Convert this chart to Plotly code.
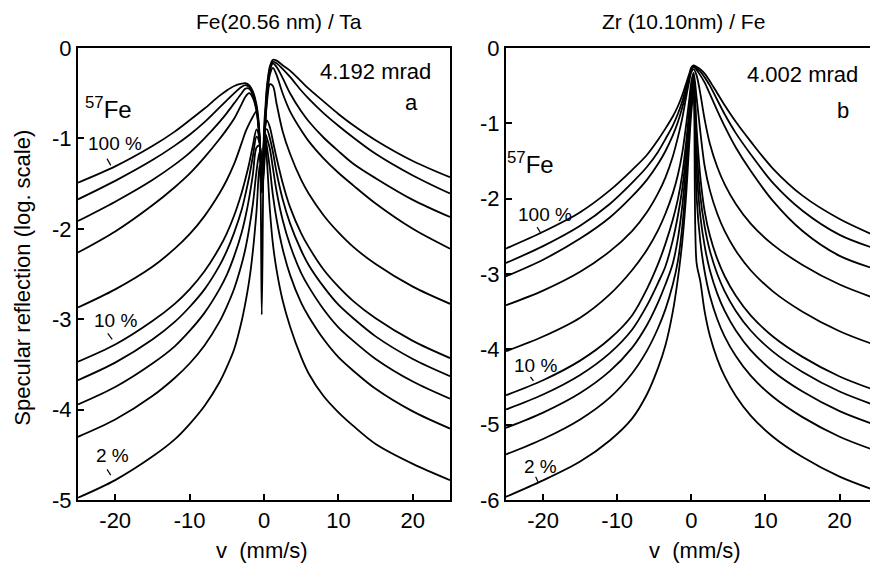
import plotly.graph_objects as go

# ---------------- data ----------------
# panel a : Fe(20.56 nm) / Ta, 4.192 mrad
xa = [-25, -20, -15, -12, -10, -8, -6, -5, -4, -3, -2.5, -2, -1.5, -1, -0.6, -0.3,
      0, 0.2, 0.4, 0.8, 1.2, 1.7, 2.5, 3.5, 5, 6, 8, 10, 12, 15, 20, 25]
a_c1 = [-1.49, -1.31, -1.085, -0.925, -0.80, -0.67, -0.53, -0.47, -0.42, -0.395, -0.39, -0.41, -0.48, -0.63, -0.95, -2.95,
        -0.90, -0.64, -0.42, -0.20, -0.13, -0.14, -0.19, -0.25, -0.37, -0.45, -0.59, -0.73, -0.855, -1.02, -1.25, -1.43]
a_c2 = [-1.674, -1.47, -1.24, -1.08, -0.96, -0.82, -0.66, -0.58, -0.50, -0.43, -0.41, -0.43, -0.50, -0.66, -0.98, -1.45,
        -1.0, -0.72, -0.46, -0.22, -0.15, -0.17, -0.23, -0.32, -0.47, -0.56, -0.72, -0.86, -0.99, -1.17, -1.41, -1.61]
a_c3 = [-1.914, -1.70, -1.46, -1.29, -1.16, -1.00, -0.82, -0.72, -0.61, -0.50, -0.45, -0.45, -0.52, -0.68, -1.0, -1.38,
        -1.02, -0.75, -0.50, -0.25, -0.17, -0.21, -0.33, -0.50, -0.70, -0.81, -0.99, -1.14, -1.28, -1.44, -1.68, -1.87]
a_c4 = [-2.263, -2.03, -1.74, -1.54, -1.39, -1.21, -1.01, -0.90, -0.78, -0.62, -0.54, -0.50, -0.55, -0.70, -1.02, -1.33,
        -1.05, -0.80, -0.55, -0.29, -0.22, -0.30, -0.50, -0.70, -0.91, -1.03, -1.22, -1.38, -1.52, -1.72, -2.0, -2.22]
a_c5 = [-2.87, -2.67, -2.42, -2.22, -2.06, -1.86, -1.61, -1.46, -1.28, -1.05, -0.93, -0.84, -0.76, -0.70, -1.00, -1.36,
        -1.12, -0.80, -0.60, -0.40, -0.42, -0.62, -0.92, -1.17, -1.46, -1.61, -1.85, -2.04, -2.20, -2.39, -2.64, -2.83]
a_c6 = [-3.47, -3.28, -3.02, -2.83, -2.67, -2.47, -2.21, -2.05, -1.85, -1.60, -1.45, -1.28, -1.08, -0.90, -1.02, -1.40,
        -1.15, -0.85, -0.80, -0.88, -1.03, -1.22, -1.49, -1.76, -2.05, -2.20, -2.45, -2.64, -2.80, -2.99, -3.24, -3.43]
a_c7 = [-3.674, -3.48, -3.225, -3.03, -2.865, -2.67, -2.41, -2.245, -2.04, -1.79, -1.62, -1.43, -1.20, -0.98, -1.05, -1.45,
        -1.20, -0.90, -0.90, -1.00, -1.15, -1.38, -1.67, -1.94, -2.24, -2.40, -2.64, -2.84, -2.99, -3.19, -3.44, -3.63]
a_c8 = [-3.943, -3.75, -3.49, -3.30, -3.13, -2.93, -2.67, -2.51, -2.30, -2.04, -1.87, -1.66, -1.40, -1.10, -1.08, -1.50,
        -1.25, -0.95, -1.00, -1.12, -1.33, -1.59, -1.90, -2.18, -2.49, -2.64, -2.89, -3.09, -3.24, -3.44, -3.69, -3.88]
a_c9 = [-4.301, -4.11, -3.85, -3.65, -3.49, -3.29, -3.03, -2.86, -2.66, -2.39, -2.22, -2.0, -1.73, -1.36, -1.15, -1.55,
        -1.30, -1.00, -1.10, -1.34, -1.63, -1.90, -2.22, -2.51, -2.82, -2.97, -3.22, -3.42, -3.57, -3.77, -4.02, -4.21]
a_c10 = [-4.975, -4.78, -4.52, -4.33, -4.16, -3.96, -3.70, -3.53, -3.33, -3.02, -2.82, -2.58, -2.25, -1.80, -1.30, -1.60,
         -1.35, -1.05, -1.25, -1.80, -2.17, -2.46, -2.79, -3.08, -3.42, -3.60, -3.85, -4.03, -4.18, -4.38, -4.60, -4.78]
panel_a = [a_c1, a_c2, a_c3, a_c4, a_c5, a_c6, a_c7, a_c8, a_c9, a_c10]

# panel b : Zr (10.10nm) / Fe, 4.002 mrad
xb = [-25, -20, -15, -11, -8, -6, -4.5, -3.5, -2.5, -1.8, -1.2, -0.7, -0.3, 0, 0.3,
      0.7, 1.2, 1.8, 2.5, 3.5, 4.5, 6, 8, 11, 15, 20, 25]
b_c1 = [-2.663, -2.44, -2.18, -1.89, -1.62, -1.42, -1.22, -1.07, -0.91, -0.77, -0.62, -0.47, -0.35, -0.26, -0.23,
        -0.25, -0.28, -0.34, -0.44, -0.60, -0.76, -0.98, -1.24, -1.60, -1.96, -2.27, -2.50]
b_c2 = [-2.854, -2.63, -2.36, -2.07, -1.79, -1.58, -1.38, -1.21, -1.03, -0.87, -0.70, -0.52, -0.38, -0.27, -0.24,
        -0.27, -0.31, -0.39, -0.50, -0.69, -0.88, -1.13, -1.41, -1.79, -2.16, -2.48, -2.67]
b_c3 = [-3.031, -2.81, -2.53, -2.25, -1.97, -1.75, -1.54, -1.37, -1.16, -0.98, -0.78, -0.57, -0.40, -0.28, -0.25,
        -0.29, -0.36, -0.46, -0.61, -0.83, -1.04, -1.32, -1.63, -2.03, -2.43, -2.76, -2.94]
b_c4 = [-3.415, -3.22, -2.97, -2.70, -2.43, -2.18, -1.93, -1.72, -1.44, -1.18, -0.92, -0.65, -0.45, -0.32, -0.28,
        -0.36, -0.60, -0.95, -1.27, -1.58, -1.81, -2.07, -2.33, -2.61, -2.88, -3.14, -3.33]
b_c5 = [-4.025, -3.83, -3.58, -3.27, -2.95, -2.68, -2.42, -2.20, -1.93, -1.68, -1.38, -1.02, -0.70, -0.45, -0.33,
        -0.65, -1.10, -1.57, -1.89, -2.20, -2.43, -2.69, -2.95, -3.23, -3.50, -3.76, -3.95]
b_c6 = [-4.609, -4.41, -4.15, -3.86, -3.55, -3.20, -2.87, -2.60, -2.28, -2.00, -1.66, -1.25, -0.85, -0.55, -0.38,
        -1.05, -1.70, -2.17, -2.49, -2.80, -3.03, -3.29, -3.55, -3.83, -4.10, -4.36, -4.55]
b_c7 = [-4.798, -4.60, -4.34, -4.05, -3.74, -3.42, -3.12, -2.90, -2.55, -2.22, -1.85, -1.40, -0.95, -0.62, -0.43,
        -1.30, -1.96, -2.37, -2.69, -3.00, -3.23, -3.49, -3.75, -4.03, -4.30, -4.56, -4.75]
b_c8 = [-5.042, -4.84, -4.58, -4.29, -3.98, -3.68, -3.38, -3.14, -2.86, -2.52, -2.08, -1.55, -1.05, -0.68, -0.48,
        -1.58, -2.22, -2.63, -2.95, -3.26, -3.49, -3.75, -4.01, -4.29, -4.56, -4.82, -5.01]
b_c9 = [-5.395, -5.19, -4.93, -4.64, -4.32, -4.02, -3.72, -3.47, -3.14, -2.82, -2.35, -1.75, -1.15, -0.75, -0.53,
        -1.96, -2.56, -2.97, -3.29, -3.60, -3.83, -4.09, -4.35, -4.63, -4.90, -5.16, -5.35]
b_c10 = [-5.958, -5.74, -5.49, -5.21, -4.92, -4.60, -4.25, -3.95, -3.50, -3.05, -2.55, -1.95, -1.30, -0.85, -0.60,
         -2.85, -3.09, -3.50, -3.82, -4.13, -4.36, -4.62, -4.88, -5.16, -5.43, -5.69, -5.88]
panel_b = [b_c1, b_c2, b_c3, b_c4, b_c5, b_c6, b_c7, b_c8, b_c9, b_c10]

x_ticks = [-20, -10, 0, 10, 20]
x_ticktext = ["-20", "-10", "0", "10", "20"]
ya_ticks = [0, -1, -2, -3, -4, -5]
yb_ticks = [0, -1, -2, -3, -4, -5, -6]

# ---------------- figure ----------------
FONT = "Arial"
fig = go.Figure()
for ys in panel_a:
    fig.add_trace(go.Scatter(x=xa, y=ys, mode="lines", xaxis="x", yaxis="y",
                             line=dict(color="black", width=1.8, shape="spline", smoothing=0.9),
                             showlegend=False, hoverinfo="skip"))
for ys in panel_b:
    fig.add_trace(go.Scatter(x=xb, y=ys, mode="lines", xaxis="x2", yaxis="y2",
                             line=dict(color="black", width=1.8, shape="spline", smoothing=0.9),
                             showlegend=False, hoverinfo="skip"))

axis_common = dict(showline=True, linecolor="black", linewidth=2, ticks="inside", ticklen=6,
                   tickwidth=1.5, tickcolor="black", showgrid=False, zeroline=False,
                   tickfont=dict(family=FONT, size=22, color="black"))

fig.update_layout(
    width=870, height=566,
    margin=dict(l=78, r=0, t=48, b=66),
    paper_bgcolor="white", plot_bgcolor="white",
    xaxis=dict(domain=[0, 0.4697], range=[-25, 25], tickvals=x_ticks, ticktext=x_ticktext,
               mirror=True, anchor="y", **axis_common),
    yaxis=dict(domain=[0, 1], range=[-5, 0], tickvals=ya_ticks, ticktext=[str(v) for v in ya_ticks],
               mirror=True, anchor="x", **axis_common),
    xaxis2=dict(domain=[0.5404, 1], range=[-25, 24.1], tickvals=x_ticks, ticktext=x_ticktext,
                mirror=True, anchor="y2", **axis_common),
    yaxis2=dict(domain=[0, 1], range=[-6, 0], tickvals=yb_ticks, ticktext=[str(v) for v in yb_ticks],
                mirror=False, anchor="x2", **axis_common),
)

ann = []
def A(text, x, y, xref, yref, size, **kw):
    d = dict(text=text, x=x, y=y, xref=xref, yref=yref, showarrow=False,
             font=dict(family=FONT, size=size, color="black"), xanchor="center", yanchor="middle")
    d.update(kw)
    ann.append(d)

# titles
A("Fe(20.56 nm) / Ta", 0.2532, 1.0597, "paper", "paper", 21)
A("Zr (10.10nm) / Fe", 0.7639, 1.0597, "paper", "paper", 21)
A("v  (mm/s)", 0.2323, -0.112, "paper", "paper", 22)
A("v  (mm/s)", 0.779, -0.112, "paper", "paper", 22)
A("Specular reflection (log. scale)", -0.070, 0.491, "paper", "paper", 22, textangle=-90)

# panel a texts
A("4.192 mrad", 15.0, -0.265, "x", "y", 22)
A("a", 19.8, -0.60, "x", "y", 22)
A("<sup>57</sup>Fe", -20.9, -0.66, "x", "y", 24)
A("100 %", -20.0, -1.06, "x", "y", 19)
A("10 %", -20.0, -3.01, "x", "y", 19)
A("2 %", -20.3, -4.51, "x", "y", 19)
# panel b texts
A("4.002 mrad", 15.0, -0.35, "x2", "y2", 22)
A("b", 20.4, -0.83, "x2", "y2", 22)
A("<sup>57</sup>Fe", -21.7, -1.53, "x2", "y2", 24)
A("100 %", -19.8, -2.21, "x2", "y2", 19)
A("10 %", -21.0, -4.21, "x2", "y2", 19)
A("2 %", -20.4, -5.56, "x2", "y2", 19)

shapes = []
def tick(x0, y0, x1, y1, xr, yr):
    shapes.append(dict(type="line", x0=x0, y0=y0, x1=x1, y1=y1, xref=xr, yref=yr,
                       line=dict(color="black", width=1.2)))
tick(-21.1, -1.224, -20.6, -1.298, "x", "y")
tick(-21.0, -3.158, -20.4, -3.224, "x", "y")
tick(-21.1, -4.661, -20.6, -4.724, "x", "y")
tick(-20.8, -2.377, -20.4, -2.443, "x2", "y2")
tick(-21.7, -4.366, -21.3, -4.419, "x2", "y2")
tick(-21.0, -5.692, -20.7, -5.759, "x2", "y2")

fig.update_layout(annotations=ann, shapes=shapes)
fig.write_html("out.html")
